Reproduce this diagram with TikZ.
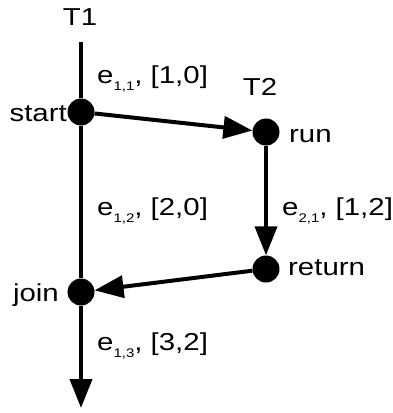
\documentclass[tikz,border=0pt]{standalone}
\usepackage{fontspec}
\setmainfont[FakeStretch=1.2]{Liberation Sans}
\usetikzlibrary{arrows.meta,positioning}
\tikzset{
  evt/.style={circle, fill=black, inner sep=0pt, minimum size=27pt},
  thread/.style={line width=4pt},
  flow/.style={thread, -{Triangle[length=29pt,width=22pt]}},
  lbl/.style={font=\fontsize{24.5}{28}\selectfont, inner sep=0pt}
}
\newcommand{\ev}[2]{e\raisebox{-7.5pt}{\fontsize{12.5}{13}\selectfont #1}, [#2]}

\begin{document}
\begin{tikzpicture}[x=1pt,y=-1pt]
  \useasboundingbox (0,0) rectangle (392,413);
  % thread heads
  \node[lbl, anchor=base] (T1) at (80,25) {T1};
  \node[lbl, anchor=base] (T2) at (260,95) {T2};
  % events
  \node[evt] (start) at (81,112) {};
  \node[evt] (run) at (266,132) {};
  \node[evt] (return) at (266,269) {};
  \node[evt] (join) at (81,292) {};
  \coordinate (top) at (81,42);
  \coordinate (bot) at (81,408);
  % event names
  \node[lbl, anchor=base east] (startname) at (67,121) {start};
  \node[lbl, anchor=base west] (runname) at (289,142) {run};
  \node[lbl, anchor=base west] (returnname) at (288,275) {return};
  \node[lbl, anchor=base east] (joinname) at (59,301) {join};
  % edges
  \draw[thread] (top) -- (start);
  \draw[thread] (start) -- (join);
  \draw[flow] (start) -- (run);
  \draw[flow] (run) -- (return);
  \draw[flow] (return) -- (join);
  \draw[flow] (join) -- (bot);
  % edge labels
  \node[lbl, anchor=base west] (e11) at (97,83) {\ev{1,1}{1,0}};
  \node[lbl, anchor=base west] (e12) at (97,215) {\ev{1,2}{2,0}};
  \node[lbl, anchor=base west] (e21) at (282,215) {\ev{2,1}{1,2}};
  \node[lbl, anchor=base west] (e13) at (97,350) {\ev{1,3}{3,2}};
\end{tikzpicture}
\end{document}
